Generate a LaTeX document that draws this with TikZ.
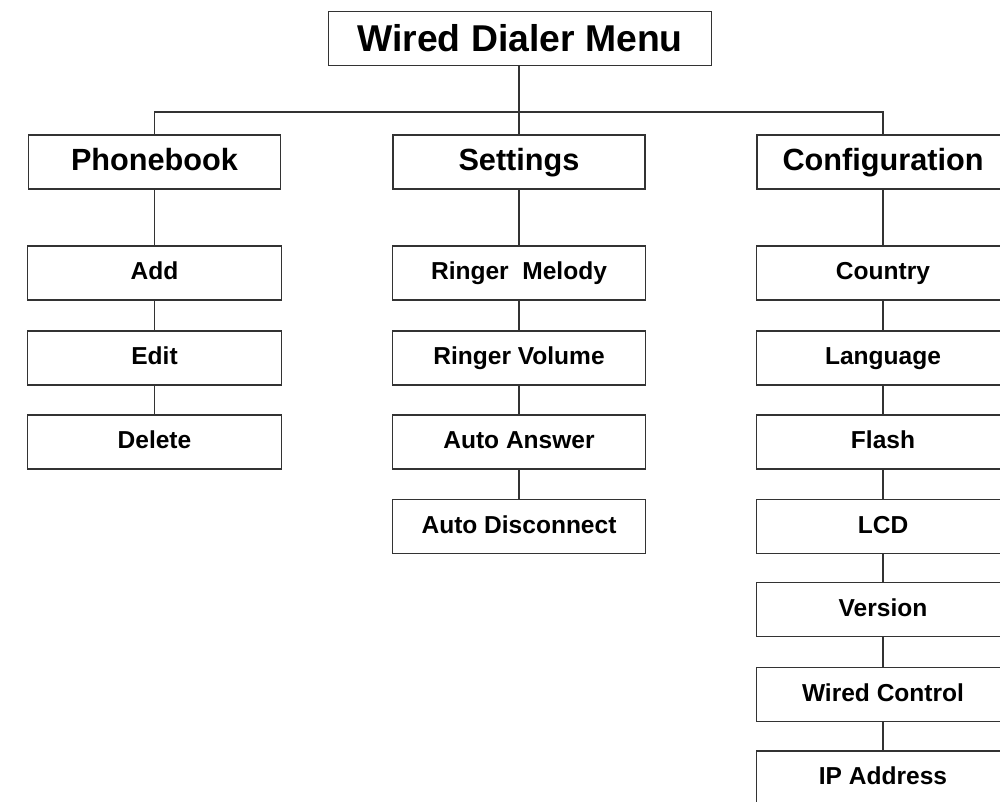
\documentclass[tikz,border=0pt]{standalone}
\usepackage{fontspec}
\setmainfont{Liberation Sans}
\usepackage[dvipsnames]{xcolor}

\begin{document}
\begin{tikzpicture}[x=0.75pt,y=0.75pt,yscale=-1,xscale=1,
    menubox/.style={draw=black!80,line width=0.9pt,fill=white,inner sep=0pt,minimum height=40.5pt,text=black},
    topbox/.style={menubox,minimum width=287pt,minimum height=40pt,text height=24pt,text depth=4pt,font=\fontsize{28}{32}\selectfont\bfseries},
    headbox/.style={menubox,minimum width=189pt,text height=13pt,text depth=1pt,font=\fontsize{23}{27}\selectfont\bfseries},
    itembox/.style={menubox,minimum width=190pt,text height=11pt,text depth=1pt,font=\fontsize{18.4}{22}\selectfont\bfseries},
    link/.style={draw=black!80,line width=0.9pt}]
                \useasboundingbox (0,0) rectangle (1000,801);
                \clip (0,0) rectangle (1000,801);
                % top of the menu
                \draw (520,38.5) node [topbox] (menu) {Wired Dialer Menu};
                \coordinate (bar) at (519,112);
                % first level
                \draw (154.5,162) node [headbox] (phonebook) {Phonebook};
                \draw (519,162) node [headbox] (settings) {Settings};
                \draw (883,162) node [headbox] (config) {Configuration};
                % phonebook column
                \draw (154.5,273) node [itembox] (add) {Add};
                \draw (154.5,358) node [itembox] (edit) {Edit};
                \draw (154.5,442) node [itembox] (delete) {Delete};
                % settings column
                \draw (519,273) node [itembox] (melody) {Ringer\ \ Melody};
                \draw (519,358) node [itembox] (volume) {Ringer Volume};
                \draw (519,442) node [itembox] (answer) {Auto Answer};
                \draw (519,526.5) node [itembox] (disconnect) {Auto Disconnect};
                % configuration column
                \draw (883,273) node [itembox] (country) {Country};
                \draw (883,358) node [itembox] (language) {Language};
                \draw (883,442) node [itembox] (flash) {Flash};
                \draw (883,526.5) node [itembox] (lcd) {LCD};
                \draw (883,609.5) node [itembox] (version) {Version};
                \draw (883,694.5) node [itembox] (wired) {Wired Control};
                \draw (883,778) node [itembox] (ip) {IP Address};
                % connectors
                \draw [link] (menu.south -| bar) -- (bar);
                \draw [link] (phonebook.north) |- (bar) -| (config.north);
                \draw [link] (bar) -- (settings.north);
                \draw [link] (phonebook) -- (add) (add) -- (edit) (edit) -- (delete);
                \draw [link] (settings) -- (melody) (melody) -- (volume) (volume) -- (answer) (answer) -- (disconnect);
                \draw [link] (config) -- (country) (country) -- (language) (language) -- (flash) (flash) -- (lcd) (lcd) -- (version) (version) -- (wired) (wired) -- (ip);
            \end{tikzpicture}
\end{document}
